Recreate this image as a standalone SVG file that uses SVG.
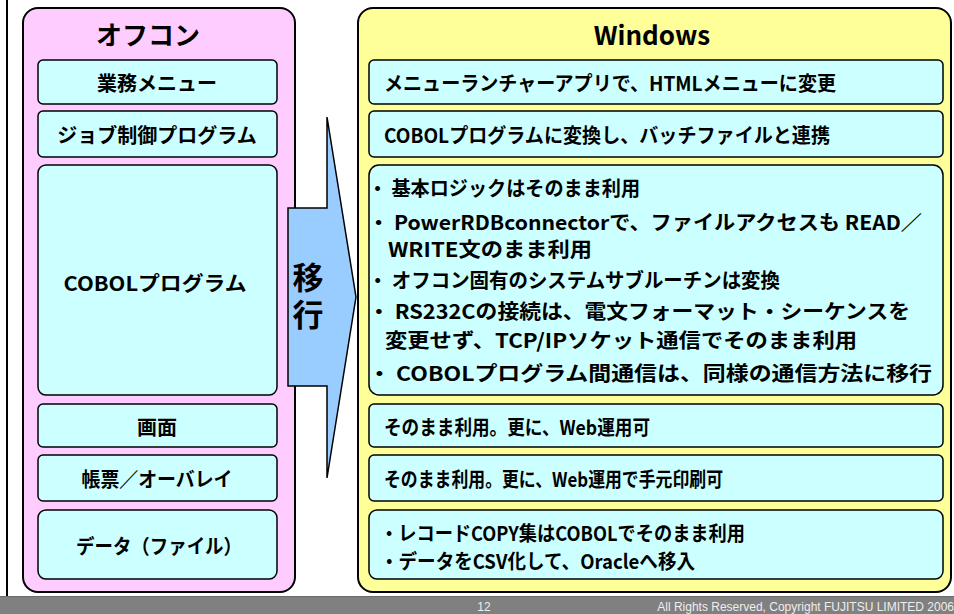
<svg xmlns="http://www.w3.org/2000/svg" width="954" height="614" viewBox="0 0 954 614">
<defs>
<style>
.cont{stroke:#000;stroke-width:2}
.pink{fill:#FFCCFF}
.yel{fill:#FFFF99}
.box{fill:#CCFFFF;stroke:#000;stroke-width:1.5}
.t{font-family:"Noto Sans CJK JP","Noto Sans",sans-serif;font-weight:700;fill:#000;dominant-baseline:central}
.c{text-anchor:middle;font-size:20px}
.l{font-size:20px}
.ttl{font-size:26px;text-anchor:middle}
.ft{font-family:"Liberation Sans",Arial,sans-serif;font-size:12px;fill:#eeeeee}
</style>
</defs>
<rect x="0" y="0" width="954" height="614" fill="#fff"/>
<line x1="7" y1="0" x2="7" y2="597" stroke="#000" stroke-width="2"/>
<g id="footer">
<rect x="0" y="596" width="954" height="18" fill="#808080"/>
<line x1="0" y1="596.5" x2="954" y2="596.5" stroke="#6a6a6a" stroke-width="1"/>
<text class="ft" x="484" y="611" text-anchor="middle">12</text>
<text class="ft" x="954" y="611" text-anchor="end">All Rights Reserved, Copyright FUJITSU LIMITED 2006</text>
</g>
<g id="offcon">
<rect class="cont pink" x="23" y="8" width="272" height="584" rx="15"/>
<text class="t ttl" x="148" y="33">オフコン</text>
</g>
<g id="windows">
<rect class="cont yel" x="358" y="8" width="593" height="584" rx="15"/>
<text class="t ttl" x="652" y="33">Windows</text>
</g>
<g id="left-menu"><rect class="box" x="38" y="60" width="239" height="44" rx="5"/><text class="t c" x="157" y="82">業務メニュー</text></g>
<g id="left-job"><rect class="box" x="38" y="111" width="239" height="46" rx="5"/><text class="t c" x="157" y="134">ジョブ制御プログラム</text></g>
<g id="left-cobol"><rect class="box" x="38" y="165" width="239" height="230" rx="8"/><text class="t c" x="155" y="282" textLength="183" lengthAdjust="spacingAndGlyphs">COBOLプログラム</text></g>
<g id="left-screen"><rect class="box" x="38" y="404" width="239" height="43" rx="5"/><text class="t c" x="157" y="426">画面</text></g>
<g id="left-form"><rect class="box" x="38" y="455" width="239" height="46" rx="5"/><text class="t c" x="157" y="478" textLength="151" lengthAdjust="spacingAndGlyphs">帳票／オーバレイ</text></g>
<g id="left-data"><rect class="box" x="38" y="510" width="239" height="69" rx="8"/><text class="t c" x="159" y="545" textLength="166" lengthAdjust="spacingAndGlyphs">データ（ファイル）</text></g>
<g id="right-menu"><rect class="box" x="369" y="60" width="574" height="44" rx="5"/><text class="t l" x="384" y="82" textLength="452" lengthAdjust="spacingAndGlyphs">メニューランチャーアプリで、HTMLメニューに変更</text></g>
<g id="right-job"><rect class="box" x="369" y="111" width="574" height="46" rx="5"/><text class="t l" x="384" y="134" textLength="446" lengthAdjust="spacingAndGlyphs">COBOLプログラムに変換し、バッチファイルと連携</text></g>
<g id="right-cobol"><rect class="box" x="369" y="165" width="574" height="230" rx="10"/>
<text class="t l" x="368" y="187" textLength="272" lengthAdjust="spacingAndGlyphs">・ 基本ロジックはそのまま利用</text>
<text class="t l" x="368" y="221" textLength="554" lengthAdjust="spacingAndGlyphs">・ PowerRDBconnectorで、ファイルアクセスも READ／</text>
<text class="t l" x="388" y="248" textLength="204" lengthAdjust="spacingAndGlyphs">WRITE文のまま利用</text>
<text class="t l" x="368" y="279" textLength="412" lengthAdjust="spacingAndGlyphs">・ オフコン固有のシステムサブルーチンは変換</text>
<text class="t l" x="368" y="310" textLength="542" lengthAdjust="spacingAndGlyphs">・ RS232Cの接続は、電文フォーマット・シーケンスを</text>
<text class="t l" x="385" y="339" textLength="472" lengthAdjust="spacingAndGlyphs">変更せず、TCP/IPソケット通信でそのまま利用</text>
<text class="t l" x="368" y="372" textLength="564" lengthAdjust="spacingAndGlyphs">・ COBOLプログラム間通信は、同様の通信方法に移行</text>
</g>
<g id="right-screen"><rect class="box" x="369" y="404" width="574" height="43" rx="5"/><text class="t l" x="384" y="426" textLength="266" lengthAdjust="spacingAndGlyphs">そのまま利用。更に、Web運用可</text></g>
<g id="right-form"><rect class="box" x="369" y="455" width="574" height="46" rx="5"/><text class="t l" x="384" y="478" textLength="339" lengthAdjust="spacingAndGlyphs">そのまま利用。更に、Web運用で手元印刷可</text></g>
<g id="right-data"><rect class="box" x="369" y="510" width="574" height="69" rx="8"/>
<text class="t l" x="380" y="532" textLength="365" lengthAdjust="spacingAndGlyphs">・レコードCOPY集はCOBOLでそのまま利用</text>
<text class="t l" x="380" y="560" textLength="315" lengthAdjust="spacingAndGlyphs">・データをCSV化して、Oracleへ移入</text>
</g>
<g id="connectors">
<g id="migrate-arrow">
<polygon points="288,208 327,208 327,117 356,297 327,478 327,386 288,386" fill="#99CCFF" stroke="#000" stroke-width="1.5"/>
<text x="308" y="262" font-family="'Noto Sans CJK JP',sans-serif" font-weight="700" font-size="31" style="writing-mode:vertical-rl" letter-spacing="6">移行</text>
</g>
</g>
</svg>
